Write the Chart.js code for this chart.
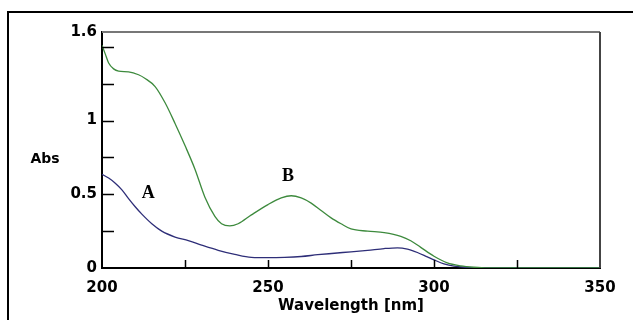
<!DOCTYPE html>
<html>
<head>
<meta charset="utf-8">
<script src="https://cdn.jsdelivr.net/npm/chart.js@4/dist/chart.umd.min.js"></script>
<style>
  html, body { margin: 0; padding: 0; background: #fff; }
  #wrap { position: relative; width: 633px; height: 320px; }
</style>
</head>
<body>
<div id="wrap"><canvas id="chart" width="633" height="320"></canvas></div>
<script>
// spectrum A (blue)
const wavelengthA = [200, 202, 204, 206, 208, 210, 212, 215, 218, 222, 226, 230, 235, 240, 245, 250, 255, 260, 265, 270, 275, 280, 285, 289, 292, 295, 298, 300, 303, 306, 310, 314, 350];
const absA = [0.635, 0.61, 0.575, 0.53, 0.47, 0.415, 0.365, 0.30, 0.25, 0.21, 0.185, 0.155, 0.12, 0.092, 0.072, 0.07, 0.072, 0.078, 0.09, 0.10, 0.11, 0.12, 0.132, 0.137, 0.128, 0.105, 0.075, 0.055, 0.028, 0.012, 0.004, 0, 0];

// spectrum B (green)
const wavelengthB = [200, 201, 202, 203.5, 205, 208, 211, 213, 216, 219, 222, 225, 228, 231, 234, 236, 238.5, 241, 245, 250, 254, 257, 260, 263, 266, 269, 272, 275, 280, 285, 290, 293, 296, 300, 304, 308, 312, 316, 350];
const absB = [1.51, 1.45, 1.39, 1.35, 1.335, 1.33, 1.31, 1.285, 1.23, 1.12, 0.98, 0.83, 0.67, 0.48, 0.35, 0.30, 0.285, 0.30, 0.36, 0.43, 0.475, 0.49, 0.475, 0.44, 0.39, 0.34, 0.30, 0.265, 0.25, 0.24, 0.215, 0.185, 0.14, 0.08, 0.035, 0.015, 0.005, 0, 0];

const yLabels = [0, 0.5, 1, 1.6];
const xLabels = [200, 250, 300, 350];

const toPoints = (xs, ys) => xs.map((x, i) => ({ x: x, y: ys[i] }));

const tickFont = { family: 'DejaVu Sans', weight: 'bold', size: 15 };

// frame, inner tick marks, border and text
const decor = {
  id: 'decor',
  beforeDraw(chart) {
    const ctx = chart.ctx;
    ctx.save();
    ctx.strokeStyle = '#000';
    ctx.lineWidth = 2;
    ctx.beginPath();
    ctx.moveTo(8, 320);
    ctx.lineTo(8, 12);
    ctx.lineTo(633, 12);
    ctx.stroke();
    ctx.restore();
  },
  afterDraw(chart) {
    const ctx = chart.ctx;
    const a = chart.chartArea;
    const xs = chart.scales.x;
    const ys = chart.scales.y;
    ctx.save();
    // top and right border
    ctx.lineWidth = 2;
    ctx.strokeStyle = '#777';
    ctx.beginPath();
    ctx.moveTo(a.left, a.top);
    ctx.lineTo(a.right, a.top);
    ctx.stroke();
    ctx.strokeStyle = '#444';
    ctx.beginPath();
    ctx.moveTo(a.right, a.top);
    ctx.lineTo(a.right, a.bottom);
    ctx.stroke();

    // inner ticks
    ctx.strokeStyle = '#000';
    ctx.lineWidth = 1.5;
    ctx.beginPath();
    for (let v = 0.25; v < 1.6; v += 0.25) {
      const py = Math.round(ys.getPixelForValue(v)) + 0.5;
      ctx.moveTo(a.left, py);
      ctx.lineTo(a.left + 12, py);
    }
    for (let v = 225; v < 350; v += 25) {
      const px = Math.round(xs.getPixelForValue(v)) + 0.5;
      ctx.moveTo(px, a.bottom);
      ctx.lineTo(px, a.bottom - 8);
    }
    ctx.stroke();

    // axis titles
    ctx.fillStyle = '#000';
    ctx.textAlign = 'center';
    ctx.textBaseline = 'middle';
    ctx.font = 'bold 15px "DejaVu Sans"';
    ctx.fillText('Wavelength [nm]', (a.left + a.right) / 2, 306);
    ctx.font = 'bold 14px "DejaVu Sans"';
    ctx.fillText('Abs', 45, 159);

    // curve labels
    ctx.font = 'bold 18px "Liberation Serif"';
    ctx.fillText('A', xs.getPixelForValue(213.9), ys.getPixelForValue(0.505));
    ctx.fillText('B', xs.getPixelForValue(256), ys.getPixelForValue(0.62));
    ctx.restore();
  }
};

new Chart(document.getElementById('chart').getContext('2d'), {
  type: 'line',
  data: {
    datasets: [
      {
        label: 'B',
        data: toPoints(wavelengthB, absB),
        borderColor: '#3d8a3d',
        borderWidth: 1.3,
        pointRadius: 0,
        cubicInterpolationMode: 'monotone',
      },
      {
        label: 'A',
        data: toPoints(wavelengthA, absA),
        borderColor: '#2e2e78',
        borderWidth: 1.3,
        pointRadius: 0,
        cubicInterpolationMode: 'monotone',
      },
    ],
  },
  options: {
    responsive: false,
    animation: false,
    events: [],
    layout: { padding: { left: 0, top: 32, right: 33, bottom: 0 } },
    plugins: { legend: { display: false }, tooltip: { enabled: false } },
    scales: {
      x: {
        type: 'linear',
        min: 200,
        max: 350,
        afterFit: (s) => { s.height = 52; },
        afterBuildTicks: (s) => { s.ticks = xLabels.map((v) => ({ value: v })); },
        grid: { display: false, drawTicks: false },
        border: { display: true, color: '#000', width: 2 },
        ticks: { color: '#000', font: tickFont, padding: 11, maxRotation: 0, callback: (v) => String(v) },
      },
      y: {
        min: 0,
        max: 1.6,
        afterFit: (s) => { s.width = 102; },
        afterBuildTicks: (s) => { s.ticks = yLabels.map((v) => ({ value: v })); },
        grid: { display: false, drawTicks: false },
        border: { display: true, color: '#000', width: 2 },
        ticks: { color: '#000', font: tickFont, padding: 5, callback: (v) => String(v) },
      },
    },
  },
  plugins: [decor],
});
</script>
</body>
</html>
